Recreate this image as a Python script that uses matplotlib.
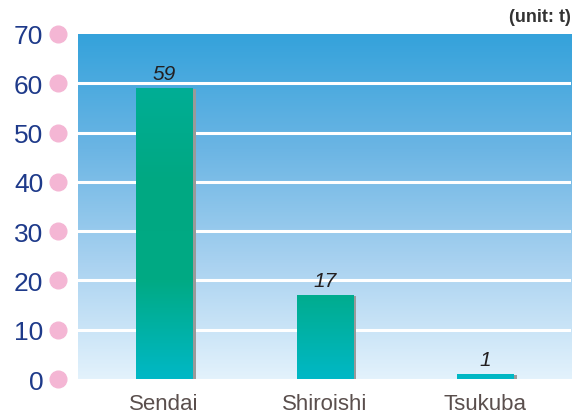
import numpy as np
import matplotlib
matplotlib.use('Agg')
import matplotlib.pyplot as plt
from matplotlib.colors import LinearSegmentedColormap
from matplotlib.patches import Rectangle
import matplotlib.transforms as mtransforms

# data
cities = ['Sendai', 'Shiroishi', 'Tsukuba']
amounts = [59, 17, 1]
yticks = [0, 10, 20, 30, 40, 50, 60, 70]
unit_label = '(unit: t)'

plt.rcParams['font.family'] = ['Liberation Sans', 'DejaVu Sans']

fig = plt.figure(figsize=(5.73, 4.14), dpi=100)
ax = fig.add_axes([0.136, 0.0821, 0.8605, 0.8334])
x = np.arange(len(cities))
ax.set_xlim(-0.535, 2.532)
ax.set_ylim(0, 70)

# background gradient (light at bottom, blue at top)
bg_cmap = LinearSegmentedColormap.from_list('bg', ['#e3f2fc', '#a9d2f0', '#6bb5e4', '#34a2db'])
grad = np.linspace(0, 1, 256).reshape(-1, 1)
ax.imshow(grad, cmap=bg_cmap, origin='lower', aspect='auto',
          extent=[-0.535, 2.532, 0, 70], zorder=0)

# white gridlines
for t in yticks[1:-1]:
    ax.axhline(t, color='white', lw=2.2, zorder=1)

# bars: gray shadow + gradient fill
width = 0.35
bar_cmap = LinearSegmentedColormap.from_list('bar', ['#00b8c6', '#00aa84', '#00a882', '#00ae96'])
shift = 3.5 / 160.75
for xi, v in zip(x, amounts):
    ax.add_patch(Rectangle((xi - width / 2 + shift, 0), width, max(v - 0.15, 0.3),
                           facecolor='#9a9a9a', edgecolor='none', zorder=2))
bars = ax.bar(x, amounts, width=width, color='none', edgecolor='none', zorder=3)
for b in bars:
    im = ax.imshow(grad, cmap=bar_cmap, origin='lower', aspect='auto',
                   extent=[-0.535, 2.532, 0, 60], zorder=3)
    im.set_clip_path(b)
ax.set_xlim(-0.535, 2.532)
ax.set_ylim(0, 70)

# value labels
for xi, v in zip(x, amounts):
    ax.annotate(str(v), (xi, v), xytext=(0, 4), textcoords='offset points',
                ha='center', va='bottom', fontsize=15, style='italic',
                color='#231f20', zorder=4)

for s in ax.spines.values():
    s.set_visible(False)

ax.set_yticks(yticks)
ax.set_yticklabels([str(t) for t in yticks], fontsize=19, color='#1e3a8a')
ax.tick_params(axis='y', length=0, pad=25)
ax.set_xticks(x)
ax.set_xticklabels(cities, fontsize=16, color='#5a4f4d')
ax.tick_params(axis='x', length=0, pad=10)

# pink dots beside the y tick labels
trans = mtransforms.blended_transform_factory(ax.transAxes, ax.transData)
ax.plot([-0.041] * len(yticks), yticks, 'o', ms=12, color='#f4b6d4',
        transform=trans, clip_on=False, zorder=5)

fig.text(0.997, 0.958, unit_label, ha='right', va='center', fontsize=13,
         fontweight='bold', color='#333333')

fig.savefig('out.png', dpi=100)
